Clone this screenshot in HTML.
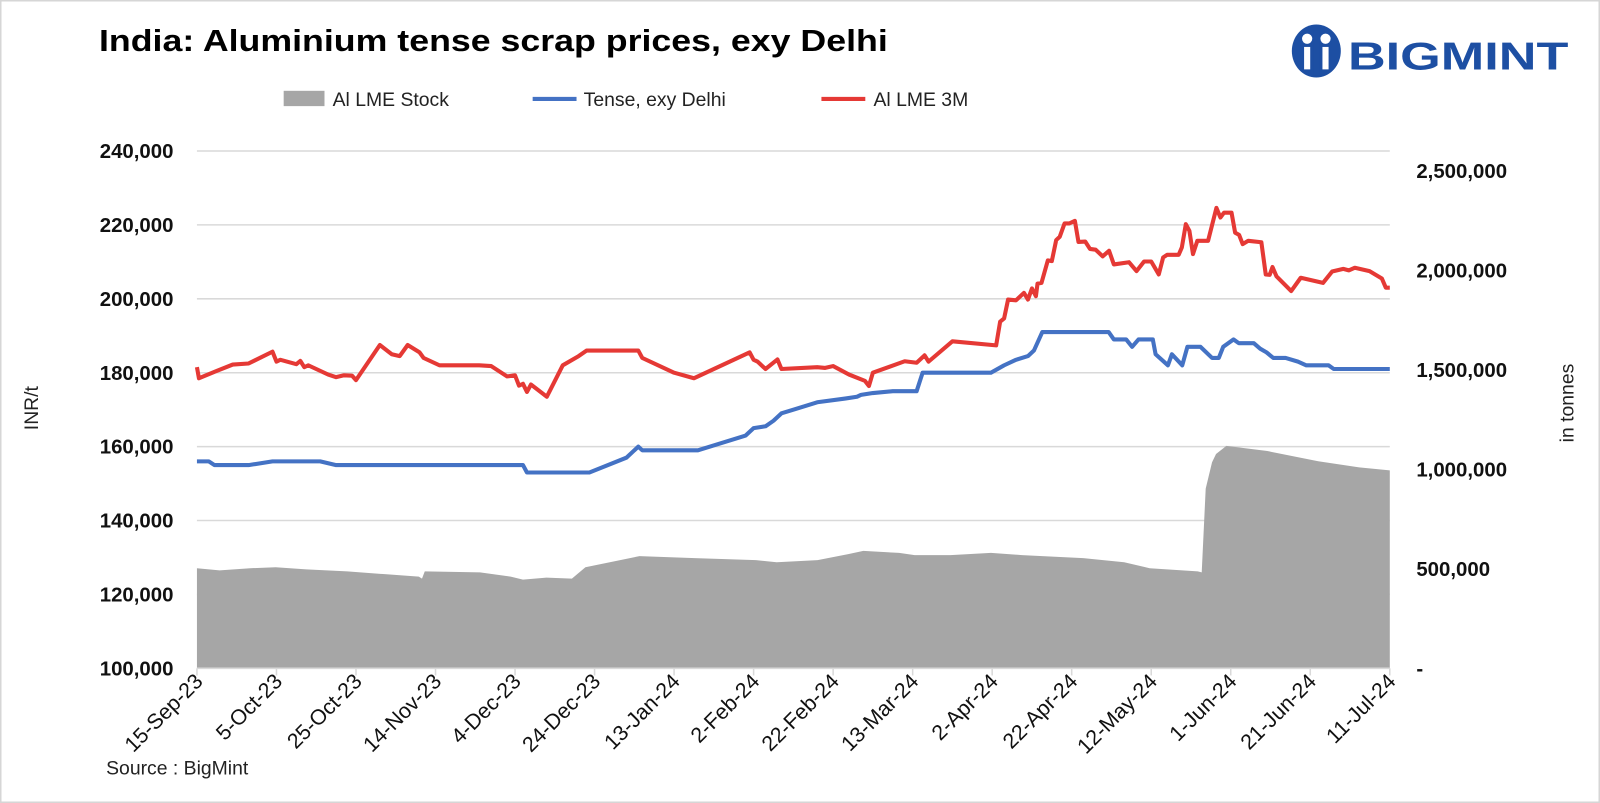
<!DOCTYPE html>
<html><head><meta charset="utf-8"><style>
html,body{margin:0;padding:0;background:#fff;}
svg{display:block;font-family:"Liberation Sans",sans-serif;}
</style></head><body>
<svg id="chart" width="1600" height="803" viewBox="0 0 1568 787" preserveAspectRatio="none">
<rect x="0.5" y="0.5" width="1567" height="786" fill="#fff" stroke="#d6d6d6" stroke-width="2"/>
<text x="97" y="50" font-size="30" font-weight="bold" fill="#000" textLength="773" lengthAdjust="spacingAndGlyphs">India: Aluminium tense scrap prices, exy Delhi</text>
<g>
<ellipse cx="1290" cy="50" rx="24" ry="26" fill="#1d4fa3"/>
<circle cx="1281" cy="38" r="5" fill="#fff"/><circle cx="1299" cy="38" r="5" fill="#fff"/>
<rect x="1278" y="46" width="6" height="22" fill="#fff"/><rect x="1296" y="46" width="6" height="22" fill="#fff"/>
<rect x="1287" y="30" width="6" height="44" fill="#1d4fa3"/>
<text x="1321" y="68" font-size="38" font-weight="bold" fill="#1d4fa3" textLength="216" lengthAdjust="spacingAndGlyphs">BIGMINT</text>
</g>
<g font-size="19" fill="#222">
<g><rect x="278" y="89" width="40" height="15" fill="#a6a6a6"/><text x="326" y="104">Al LME Stock</text></g>
<g><line x1="522" y1="97" x2="565" y2="97" stroke="#4472c4" stroke-width="4"/><text x="572" y="104">Tense, exy Delhi</text></g>
<g><line x1="805" y1="97" x2="848" y2="97" stroke="#e53935" stroke-width="4"/><text x="856" y="104">Al LME 3M</text></g>
</g>
<g id="grid"></g><g id="area"></g><g id="lines"></g><g id="axes"></g>
<text transform="translate(37,400) rotate(-90)" text-anchor="middle" font-size="19" fill="#222">INR/t</text>
<text transform="translate(1542,395) rotate(-90)" text-anchor="middle" font-size="19" fill="#222">in tonnes</text>
<text x="104" y="759" font-size="19" fill="#222">Source : BigMint</text>
</svg>
<script>
const xTickLabels=["15-Sep-23","5-Oct-23","25-Oct-23","14-Nov-23","4-Dec-23","24-Dec-23","13-Jan-24","2-Feb-24","22-Feb-24","13-Mar-24","2-Apr-24","22-Apr-24","12-May-24","1-Jun-24","21-Jun-24","11-Jul-24"];
const leftTicks=[100000,120000,140000,160000,180000,200000,220000,240000];
const rightTicks=[0,500000,1000000,1500000,2000000,2500000];
const rightTickLabels=["-","500,000","1,000,000","1,500,000","2,000,000","2,500,000"];
const lmeDays=[0,0.5,5,9,13,19,20,21,25,26,27,28,33,35,37,39,40,46,49,51,53,56,57,61,71,74,78,80,81,82,83,84,88,92,96,98,111,112,120,125,139,140,141,143,146,147,156,158,160,164,168,169,170,178,181,183,184,190,201,202,203,204,206,208,209,210,211,211.4,212.4,214,215,216.1,217,218.2,219.4,220.8,221.7,223.4,224.6,226,227.8,229.4,230.6,234.4,236.3,238.2,240,241.9,243,244,246.9,247.7,248.7,249.6,250.5,251.6,254.3,256.4,257.4,258.3,260.2,261.1,262.1,263,264.4,267.7,268.8,269.8,270.5,271.5,275.2,277.6,283.2,285.5,288.3,289.7,291.2,294.9,298,299,300];
const lmeValues=[181500,178500,180500,182200,182500,185700,183000,183500,182300,183200,181500,182000,179500,178800,179300,179200,178000,187500,185000,184500,187500,185500,184000,182000,182000,181800,179000,179300,176500,177000,174800,176800,173500,182000,184500,186000,186000,184000,180000,178500,185500,183500,183000,181000,183600,181000,181500,181300,181800,179500,177800,176400,180000,183100,182700,184700,183000,188500,187400,193800,194700,199800,199600,201600,199800,202800,200700,204100,204300,210400,210200,215900,216800,220400,220400,221100,215400,215500,213500,213300,211500,213000,209300,209900,207500,210100,210100,206600,211200,211900,211900,213900,220200,218400,212100,215700,215700,224600,222000,223300,223300,217900,217300,214800,215700,215300,206600,206500,208600,206100,202100,205700,204300,207400,208100,207700,208400,207500,205500,203000,203000];
const tenseDays=[0,3,4.4,13,19,31,35,82,83,98.7,108,111,112,126,138,140,143,145,147,150,156,163,166,167,170,175,181,182.5,199.7,203,206,209,210.5,212.6,229.3,230.6,233.7,235.2,236.8,240.4,241.1,244.2,245.2,247.8,249.1,252.4,255.3,257,258.1,260.7,262,265.8,267.4,269,270.7,273.8,276.9,279,284.6,285.9,300];
const tenseValues=[156000,156000,155000,155000,156000,156000,155000,155000,153000,153000,157000,160000,159000,159000,163000,165000,165500,167000,169000,170000,172000,173000,173500,174000,174500,175000,175000,180000,180000,182000,183500,184500,186000,191000,191000,189000,189000,187000,189000,189000,185000,182000,185000,182000,187000,187000,184000,184000,187000,189000,188000,188000,186500,185500,184000,184000,183000,182000,182000,181000,181000];
const stockDays=[0,5.7,13.4,19.8,27.5,37.8,48.1,55.8,56.6,57.3,71.2,78.9,82,87.9,94.3,97.7,111.3,125.2,140.6,145.8,156.1,163.8,167.6,176.6,180.5,189.5,199.7,207.5,222.9,233.2,239.6,251.7,252.7,253.7,255.3,256.3,258.9,269.2,282,292.3,300];
const stockValues=[503000,492000,503000,508000,497000,487000,472000,461000,451000,487000,482000,461000,446000,456000,451000,508000,564000,554000,544000,533000,544000,574000,590000,580000,569000,569000,580000,569000,554000,533000,503000,487000,482000,903000,1036000,1077000,1118000,1092000,1041000,1010000,995000];

const X0=193,X1=1362,Y0=655,Y1=148,NS="http://www.w3.org/2000/svg";
const xs=d=>X0+d/300*(X1-X0);
const yl=v=>Y0-(v-100000)/140000*(Y0-Y1);
const yr=v=>Y0-v/2600000*(Y0-Y1);
function mk(tag,attrs,parent){const e=document.createElementNS(NS,tag);for(const k in attrs)e.setAttribute(k,attrs[k]);parent.appendChild(e);return e;}
const grid=document.getElementById('grid'),area=document.getElementById('area'),lines=document.getElementById('lines'),axes=document.getElementById('axes');
leftTicks.forEach(v=>{
  if(v>100000){const g=mk('line',{x1:X0,x2:X1,y1:yl(v),y2:yl(v),stroke:'#d9d9d9','stroke-width':1.5},grid);
  
  }
  const t=mk('text',{x:170,y:yl(v)+7,'text-anchor':'end','font-size':20,'font-weight':'bold',fill:'#111'},axes);
  t.textContent=v.toLocaleString('en-US');
  
  
});
rightTicks.forEach((v,i)=>{
  const t=mk('text',{x:1388,y:yr(v)+7,'font-size':20,'font-weight':'bold',fill:'#111'},axes);
  t.textContent=rightTickLabels[i];
  
  
});
let pts=stockDays.map((d,i)=>xs(d)+','+yr(stockValues[i]));
const ar=mk('polygon',{points:xs(0)+','+Y0+' '+pts.join(' ')+' '+xs(300)+','+Y0,fill:'#a6a6a6'},area);


const bl=mk('polyline',{points:tenseDays.map((d,i)=>xs(d)+','+yl(tenseValues[i])).join(' '),fill:'none',stroke:'#4472c4','stroke-width':4,'stroke-linejoin':'round'},lines);


const rl=mk('polyline',{points:lmeDays.map((d,i)=>xs(d)+','+yl(lmeValues[i])).join(' '),fill:'none',stroke:'#e53935','stroke-width':4,'stroke-linejoin':'round'},lines);


const ax=mk('line',{x1:X0,x2:X1,y1:Y0,y2:Y0,stroke:'#d9d9d9','stroke-width':1.5},axes);


xTickLabels.forEach((s,i)=>{
  const x=xs(i*20);
  const tk=mk('line',{x1:x,x2:x,y1:Y0,y2:Y0+7,stroke:'#d9d9d9','stroke-width':1.5},axes);
  
  
  const t=mk('text',{transform:`translate(${x+7},${Y0+14}) rotate(-45)`,'text-anchor':'end','font-size':21,fill:'#111'},axes);
  t.textContent=s;
  
  
});
</script>
</body></html>
